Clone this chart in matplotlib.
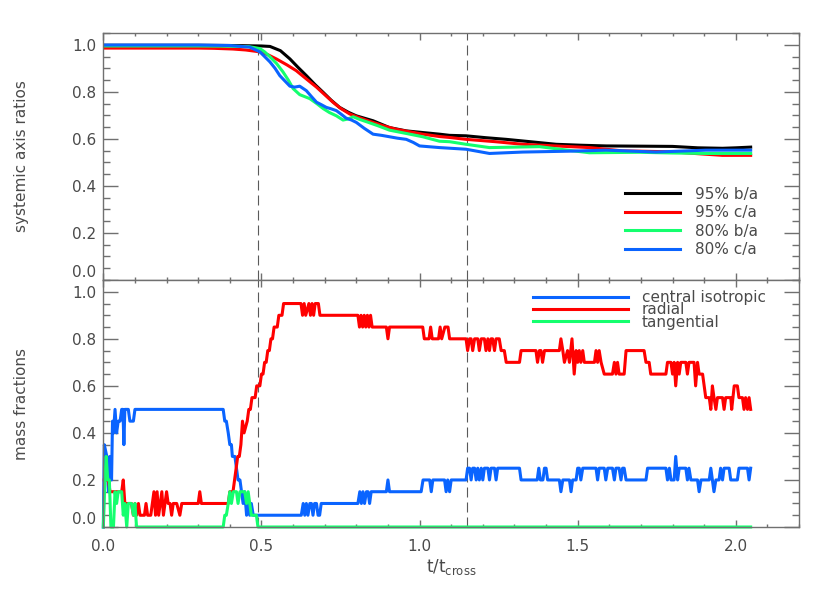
import matplotlib

matplotlib.use("Agg")
import matplotlib.pyplot as plt
import numpy as np
from matplotlib.ticker import MultipleLocator, FormatStrFormatter

# top panel: systemic axis ratios (t/t_cross, ratio)
t_ba95 = [0.0, 0.1, 0.2, 0.3, 0.4, 0.45, 0.5, 0.527, 0.56, 0.59, 0.615, 0.642, 0.67, 0.695, 0.72,
          0.747, 0.775, 0.8, 0.853, 0.905, 0.958, 1.01, 1.063, 1.095, 1.147, 1.21, 1.274, 1.35,
          1.432, 1.51, 1.59, 1.7, 1.8, 1.88, 1.958, 2.0, 2.047]
ba95 = [0.998, 0.998, 0.998, 0.998, 0.997, 0.996, 0.995, 0.993, 0.975, 0.94, 0.905, 0.869, 0.83,
        0.798, 0.765, 0.734, 0.713, 0.698, 0.677, 0.648, 0.634, 0.627, 0.62, 0.615, 0.613, 0.605,
        0.598, 0.588, 0.577, 0.573, 0.57, 0.569, 0.568, 0.562, 0.56, 0.562, 0.565]

t_ca95 = [0.0, 0.1, 0.2, 0.3, 0.35, 0.41, 0.45, 0.495, 0.52, 0.547, 0.58, 0.61, 0.64, 0.674, 0.7,
          0.726, 0.75, 0.779, 0.81, 0.853, 0.89, 0.926, 0.97, 1.01, 1.063, 1.095, 1.147, 1.24,
          1.326, 1.43, 1.537, 1.642, 1.72, 1.8, 1.88, 1.958, 2.047]
ca95 = [0.986, 0.986, 0.986, 0.986, 0.985, 0.982, 0.978, 0.97, 0.958, 0.94, 0.915, 0.89, 0.857,
        0.82, 0.788, 0.756, 0.73, 0.706, 0.69, 0.67, 0.654, 0.641, 0.63, 0.62, 0.61, 0.606, 0.598,
        0.588, 0.577, 0.57, 0.563, 0.549, 0.547, 0.545, 0.537, 0.53, 0.53]

t_ba80 = [0.0, 0.1, 0.2, 0.3, 0.4, 0.46, 0.495, 0.51, 0.527, 0.548, 0.568, 0.585, 0.6, 0.621,
          0.64, 0.653, 0.675, 0.695, 0.715, 0.737, 0.758, 0.775, 0.79, 0.81, 0.832, 0.87, 0.905,
          0.958, 1.01, 1.063, 1.095, 1.147, 1.221, 1.3, 1.379, 1.45, 1.537, 1.62, 1.695, 1.8,
          1.905, 2.047]
ba80 = [0.995, 0.995, 0.995, 0.995, 0.994, 0.992, 0.984, 0.97, 0.949, 0.92, 0.885, 0.85, 0.814,
        0.788, 0.778, 0.771, 0.75, 0.729, 0.712, 0.698, 0.68, 0.685, 0.694, 0.683, 0.673, 0.655,
        0.637, 0.623, 0.609, 0.59, 0.588, 0.577, 0.563, 0.565, 0.567, 0.555, 0.541, 0.542, 0.543,
        0.54, 0.538, 0.538]

t_ca80 = [0.0, 0.1, 0.2, 0.3, 0.4, 0.463, 0.495, 0.51, 0.527, 0.543, 0.558, 0.575, 0.59, 0.605,
          0.621, 0.642, 0.658, 0.674, 0.69, 0.705, 0.72, 0.737, 0.752, 0.768, 0.785, 0.8, 0.825,
          0.853, 0.88, 0.905, 0.93, 0.958, 0.98, 1.0, 1.063, 1.147, 1.221, 1.326, 1.484, 1.59,
          1.747, 1.905, 2.047]
ca80 = [0.999, 0.999, 0.999, 0.999, 0.997, 0.99, 0.97, 0.95, 0.927, 0.9, 0.869, 0.845, 0.824,
        0.82, 0.824, 0.805, 0.78, 0.756, 0.745, 0.734, 0.728, 0.72, 0.705, 0.688, 0.68, 0.67,
        0.645, 0.62, 0.615, 0.609, 0.603, 0.598, 0.585, 0.57, 0.563, 0.556, 0.538, 0.544, 0.548,
        0.552, 0.544, 0.552, 0.552]

# bottom panel: mass fractions, (t/t_cross, fraction) samples
isotropic = [(0.0, 0.0), (0.003, 0.35), (0.011, 0.3), (0.016, 0.15), (0.021, 0.3), (0.026, 0.2),
             (0.029, 0.45), (0.032, 0.4), (0.037, 0.5), (0.042, 0.4), (0.047, 0.45), (0.053, 0.45),
             (0.058, 0.5), (0.062, 0.5), (0.065, 0.35), (0.068, 0.5), (0.079, 0.5), (0.084, 0.45),
             (0.095, 0.45), (0.1, 0.5), (0.379, 0.5), (0.384, 0.45), (0.389, 0.45), (0.395, 0.4),
             (0.4, 0.35), (0.405, 0.35), (0.408, 0.3), (0.416, 0.3), (0.421, 0.25), (0.426, 0.2),
             (0.432, 0.2), (0.437, 0.15), (0.442, 0.1), (0.447, 0.15), (0.453, 0.05), (0.458, 0.1),
             (0.463, 0.05), (0.468, 0.1), (0.474, 0.05), (0.626, 0.05), (0.632, 0.1), (0.637, 0.05),
             (0.642, 0.1), (0.647, 0.05), (0.653, 0.1), (0.658, 0.1), (0.663, 0.05), (0.668, 0.1),
             (0.674, 0.1), (0.679, 0.05), (0.684, 0.05), (0.689, 0.1), (0.805, 0.1), (0.811, 0.15),
             (0.816, 0.1), (0.821, 0.15), (0.826, 0.1), (0.832, 0.15), (0.837, 0.15), (0.842, 0.1),
             (0.847, 0.15), (0.895, 0.15), (0.9, 0.2), (0.905, 0.15), (1.005, 0.15), (1.011, 0.2),
             (1.032, 0.2), (1.037, 0.15), (1.042, 0.2), (1.079, 0.2), (1.084, 0.15), (1.089, 0.2),
             (1.095, 0.15), (1.1, 0.2), (1.147, 0.2), (1.152, 0.25), (1.158, 0.25), (1.163, 0.2),
             (1.168, 0.25), (1.174, 0.25), (1.179, 0.2), (1.184, 0.25), (1.189, 0.2), (1.195, 0.25),
             (1.2, 0.2), (1.205, 0.25), (1.216, 0.25), (1.221, 0.2), (1.226, 0.25), (1.237, 0.25),
             (1.242, 0.2), (1.247, 0.25), (1.316, 0.25), (1.321, 0.2), (1.372, 0.2), (1.377, 0.25),
             (1.382, 0.2), (1.39, 0.2), (1.395, 0.25), (1.4, 0.25), (1.405, 0.2), (1.442, 0.2),
             (1.447, 0.15), (1.453, 0.2), (1.474, 0.2), (1.479, 0.15), (1.484, 0.2), (1.495, 0.2),
             (1.5, 0.25), (1.505, 0.25), (1.51, 0.2), (1.516, 0.25), (1.558, 0.25), (1.563, 0.2),
             (1.568, 0.25), (1.584, 0.25), (1.589, 0.2), (1.595, 0.25), (1.61, 0.25), (1.616, 0.2),
             (1.621, 0.25), (1.631, 0.25), (1.637, 0.2), (1.642, 0.25), (1.647, 0.25), (1.653, 0.2),
             (1.716, 0.2), (1.721, 0.25), (1.779, 0.25), (1.784, 0.2), (1.79, 0.25), (1.795, 0.2),
             (1.805, 0.2), (1.81, 0.3), (1.816, 0.2), (1.821, 0.25), (1.842, 0.25), (1.847, 0.2),
             (1.852, 0.25), (1.858, 0.2), (1.879, 0.2), (1.884, 0.15), (1.89, 0.2), (1.916, 0.2),
             (1.921, 0.25), (1.926, 0.2), (1.931, 0.15), (1.937, 0.2), (1.947, 0.2), (1.952, 0.25),
             (1.958, 0.2), (1.963, 0.25), (1.979, 0.25), (1.984, 0.2), (2.005, 0.2), (2.01, 0.25),
             (2.037, 0.25), (2.042, 0.2), (2.047, 0.25)]

radial = [(0.003, 0.2), (0.016, 0.2), (0.021, 0.15), (0.058, 0.15), (0.063, 0.2), (0.068, 0.1),
          (0.089, 0.1), (0.095, 0.05), (0.1, 0.1), (0.105, 0.05), (0.111, 0.1), (0.116, 0.05),
          (0.13, 0.05), (0.135, 0.1), (0.14, 0.05), (0.15, 0.05), (0.155, 0.1), (0.16, 0.15),
          (0.165, 0.05), (0.17, 0.15), (0.175, 0.05), (0.18, 0.1), (0.185, 0.15), (0.19, 0.05),
          (0.195, 0.1), (0.2, 0.15), (0.205, 0.1), (0.211, 0.1), (0.216, 0.05), (0.221, 0.1),
          (0.232, 0.1), (0.242, 0.05), (0.248, 0.1), (0.3, 0.1), (0.305, 0.15), (0.31, 0.1),
          (0.395, 0.1), (0.4, 0.15), (0.41, 0.15), (0.415, 0.2), (0.42, 0.25), (0.425, 0.3),
          (0.43, 0.3), (0.435, 0.35), (0.44, 0.45), (0.445, 0.4), (0.455, 0.45), (0.46, 0.5),
          (0.465, 0.5), (0.47, 0.55), (0.48, 0.55), (0.485, 0.6), (0.495, 0.6), (0.5, 0.65),
          (0.505, 0.65), (0.51, 0.7), (0.515, 0.7), (0.52, 0.75), (0.525, 0.75), (0.53, 0.8),
          (0.535, 0.8), (0.54, 0.85), (0.55, 0.85), (0.555, 0.9), (0.565, 0.9), (0.57, 0.95),
          (0.625, 0.95), (0.63, 0.9), (0.635, 0.95), (0.64, 0.9), (0.65, 0.95), (0.655, 0.9),
          (0.66, 0.95), (0.665, 0.9), (0.67, 0.95), (0.68, 0.95), (0.685, 0.9), (0.805, 0.9),
          (0.81, 0.85), (0.815, 0.9), (0.82, 0.85), (0.825, 0.9), (0.83, 0.85), (0.835, 0.9),
          (0.84, 0.85), (0.845, 0.9), (0.85, 0.85), (0.895, 0.85), (0.9, 0.8), (0.905, 0.85),
          (1.01, 0.85), (1.015, 0.8), (1.03, 0.8), (1.035, 0.85), (1.04, 0.8), (1.06, 0.8),
          (1.065, 0.85), (1.07, 0.8), (1.08, 0.85), (1.09, 0.85), (1.095, 0.8), (1.147, 0.8),
          (1.152, 0.75), (1.158, 0.8), (1.163, 0.8), (1.168, 0.75), (1.174, 0.8), (1.184, 0.8),
          (1.189, 0.75), (1.195, 0.8), (1.205, 0.8), (1.21, 0.75), (1.216, 0.8), (1.221, 0.75),
          (1.226, 0.8), (1.231, 0.8), (1.237, 0.75), (1.242, 0.8), (1.252, 0.8), (1.258, 0.75),
          (1.268, 0.75), (1.274, 0.7), (1.316, 0.7), (1.321, 0.75), (1.368, 0.75), (1.373, 0.7),
          (1.379, 0.75), (1.384, 0.75), (1.389, 0.7), (1.395, 0.75), (1.442, 0.75), (1.447, 0.8),
          (1.453, 0.75), (1.458, 0.7), (1.468, 0.75), (1.474, 0.7), (1.482, 0.8), (1.489, 0.65),
          (1.495, 0.75), (1.5, 0.7), (1.505, 0.75), (1.51, 0.7), (1.516, 0.75), (1.521, 0.7),
          (1.553, 0.7), (1.558, 0.75), (1.563, 0.7), (1.568, 0.75), (1.574, 0.7), (1.584, 0.65),
          (1.61, 0.65), (1.616, 0.7), (1.621, 0.65), (1.626, 0.7), (1.631, 0.65), (1.647, 0.65),
          (1.653, 0.75), (1.71, 0.75), (1.716, 0.7), (1.726, 0.7), (1.731, 0.65), (1.779, 0.65),
          (1.784, 0.7), (1.795, 0.7), (1.8, 0.65), (1.805, 0.7), (1.81, 0.6), (1.816, 0.7),
          (1.821, 0.65), (1.826, 0.7), (1.842, 0.7), (1.847, 0.65), (1.852, 0.7), (1.868, 0.7),
          (1.873, 0.6), (1.879, 0.7), (1.884, 0.65), (1.895, 0.65), (1.905, 0.55), (1.916, 0.55),
          (1.921, 0.5), (1.926, 0.6), (1.931, 0.55), (1.937, 0.5), (1.942, 0.55), (1.958, 0.55),
          (1.963, 0.5), (1.968, 0.55), (1.984, 0.55), (1.987, 0.5), (1.995, 0.6), (2.005, 0.6),
          (2.01, 0.55), (2.021, 0.55), (2.026, 0.5), (2.031, 0.55), (2.037, 0.5), (2.042, 0.55),
          (2.047, 0.5)]

tangential = [(0.0, 0.0), (0.005, 0.2), (0.009, 0.3), (0.014, 0.2), (0.019, 0.2), (0.024, 0.0),
              (0.032, 0.0), (0.037, 0.15), (0.042, 0.1), (0.047, 0.15), (0.058, 0.15),
              (0.063, 0.05), (0.068, 0.1), (0.074, 0.0), (0.079, 0.1), (0.089, 0.1), (0.095, 0.05),
              (0.1, 0.1), (0.105, 0.0), (0.379, 0.0), (0.384, 0.05), (0.389, 0.05), (0.395, 0.1),
              (0.4, 0.15), (0.405, 0.1), (0.411, 0.15), (0.421, 0.15), (0.426, 0.1), (0.432, 0.15),
              (0.447, 0.15), (0.453, 0.1), (0.458, 0.15), (0.463, 0.1), (0.468, 0.05),
              (0.484, 0.05), (0.489, 0.0), (2.047, 0.0)]

event_times = [0.49, 1.15]
y_ticks = [0.0, 0.2, 0.4, 0.6, 0.8, 1.0]

BLACK, RED, GREEN, BLUE = "black", "#ff0000", "#14ff6e", "#0a64ff"
GREY = "#5a5a5a"
AXC = "#707070"
TXT = "#4a4a4a"

plt.rcParams["font.family"] = "DejaVu Sans"
plt.rcParams["font.size"] = 11

fig = plt.figure(figsize=(8.3, 5.93), dpi=100)
ax1 = fig.add_axes([0.1245, 0.5278, 0.8382, 0.4165])
ax2 = fig.add_axes([0.1245, 0.1113, 0.8382, 0.4165], sharex=ax1)

lw = 2.2
ax1.plot(t_ba95, ba95, color=BLACK, lw=lw, label="95% b/a")
ax1.plot(t_ca95, ca95, color=RED, lw=lw, label="95% c/a")
ax1.plot(t_ba80, ba80, color=GREEN, lw=lw, label="80% b/a")
ax1.plot(t_ca80, ca80, color=BLUE, lw=lw, label="80% c/a")

for name, series, col in [("central isotropic", isotropic, BLUE),
                          ("radial", radial, RED),
                          ("tangential", tangential, GREEN)]:
    tt, ff = np.array(series).T
    ax2.plot(tt, ff, color=col, lw=lw, label=name, clip_on=False)

for ax in (ax1, ax2):
    for te in event_times:
        ax.axvline(te, color=GREY, lw=0.8, linestyle=(0, (9, 4.5)), zorder=0)
    ax.set_xlim(0, 2.2)
    ax.set_ylim(0, 1.05)
    ax.xaxis.set_major_locator(MultipleLocator(0.5))
    ax.xaxis.set_minor_locator(MultipleLocator(0.1))
    ax.set_yticks(y_ticks)
    ax.yaxis.set_minor_locator(MultipleLocator(0.05))
    ax.xaxis.set_major_formatter(FormatStrFormatter("%.1f"))
    ax.yaxis.set_major_formatter(FormatStrFormatter("%.1f"))
    ax.tick_params(which="both", direction="in", top=True, right=True,
                   colors=AXC, labelcolor=TXT, labelsize=11, width=1.0)
    ax.tick_params(axis="y", which="major", length=10.5, pad=5)
    ax.tick_params(axis="y", which="minor", length=5)
    ax.tick_params(axis="x", which="major", length=5, pad=9)
    ax.tick_params(axis="x", which="minor", length=2.5)
    for sp in ax.spines.values():
        sp.set_color(AXC)
        sp.set_linewidth(1.0)
    # IDL-style: the 0.0 label sits just above its tick
    ax.yaxis.get_major_ticks()[0].label1.set_verticalalignment("bottom")

ax1.tick_params(axis="x", labelbottom=False)

ax1.set_ylabel("systemic axis ratios", color=TXT, fontsize=11)
ax1.yaxis.set_label_coords(-0.107, 0.5)
ax2.set_ylabel("mass fractions", color=TXT, fontsize=11)
ax2.yaxis.set_label_coords(-0.107, 0.5)
ax2.set_xlabel(r"$\mathregular{t/t_{cross}}$", color=TXT, fontsize=12)
ax2.xaxis.set_label_coords(0.5, -0.12)

leg1 = ax1.legend(loc="upper left", bbox_to_anchor=(0.75, 0.378), frameon=False,
                  borderpad=0, borderaxespad=0, handlelength=3.6, handletextpad=1.0,
                  labelspacing=0.23, fontsize=11)
for txt in leg1.get_texts():
    txt.set_color(TXT)

leg2 = ax2.legend(loc="upper left", bbox_to_anchor=(0.618, 0.958), frameon=False,
                  borderpad=0, borderaxespad=0, handlelength=6.2, handletextpad=0.9,
                  labelspacing=-0.19, fontsize=11)
for txt in leg2.get_texts():
    txt.set_color(TXT)

fig.savefig("out.png", dpi=100)
